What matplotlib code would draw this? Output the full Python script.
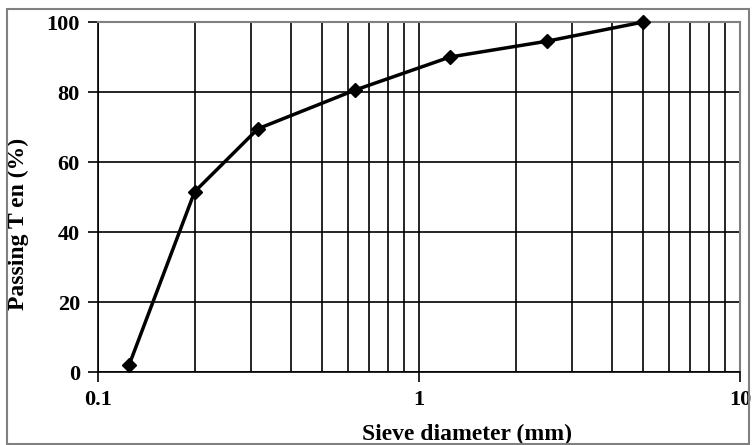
import matplotlib
matplotlib.use("Agg")
import matplotlib.pyplot as plt
from matplotlib.patches import Rectangle
from matplotlib.ticker import LogLocator, FixedLocator, NullFormatter

sieve_mm = [0.125, 0.2, 0.315, 0.63, 1.25, 2.5, 5.0]
passing = [2, 51.5, 69.5, 80.5, 90, 94.5, 100]
x_ticks = [0.1, 1, 10]
x_tick_labels = ["0.1", "1", "10"]
y_ticks = [0, 20, 40, 60, 80, 100]

plt.rcParams['font.family'] = ['Liberation Serif', 'DejaVu Serif']
plt.rcParams['font.weight'] = 'bold'
plt.rcParams['axes.labelweight'] = 'bold'

fig = plt.figure(figsize=(7.52, 4.45), dpi=100)
fig.patches.append(Rectangle((7/752, 1/445), 742/752, 435/445, transform=fig.transFigure,
                             fill=False, edgecolor='#808080', linewidth=1.5))
ax = fig.add_axes([98/752, 1-372/445, 642/752, 350/445])

ax.set_xscale('log')
ax.set_xlim(0.1, 10)
ax.set_ylim(0, 100)
ax.plot(sieve_mm, passing, color='black', linewidth=2.5, marker='D', markersize=7.5,
        zorder=5, clip_on=False)

ax.xaxis.set_major_locator(FixedLocator(x_ticks))
ax.set_xticklabels(x_tick_labels)
ax.xaxis.set_minor_locator(LogLocator(base=10, subs=range(2, 10)))
ax.xaxis.set_minor_formatter(NullFormatter())
ax.set_yticks(y_ticks)

ax.grid(True, which='both', axis='x', color='black', linewidth=1.2)
ax.grid(True, which='major', axis='y', color='black', linewidth=1.2)
ax.set_axisbelow(True)

ax.tick_params(axis='both', which='major', direction='out', length=7, width=1.2,
               labelsize=16, color='black')
ax.tick_params(axis='y', which='major', pad=6)
ax.tick_params(axis='x', which='major', pad=6)
ax.tick_params(axis='x', which='minor', length=0)
for s in ['top', 'right']:
    ax.spines[s].set_color('#808080')
    ax.spines[s].set_linewidth(1.5)
for s in ['left', 'bottom']:
    ax.spines[s].set_color('black')
    ax.spines[s].set_linewidth(1.2)

ax.set_xlabel('Sieve diameter (mm)', fontsize=17, fontweight='bold', labelpad=0)
ax.xaxis.set_label_coords(0.575, -0.148)
ax.set_ylabel('Passing T en (%)', fontsize=17, fontweight='bold')
ax.yaxis.set_label_coords(-0.107, 0.423)

fig.savefig('out.png', dpi=100)
